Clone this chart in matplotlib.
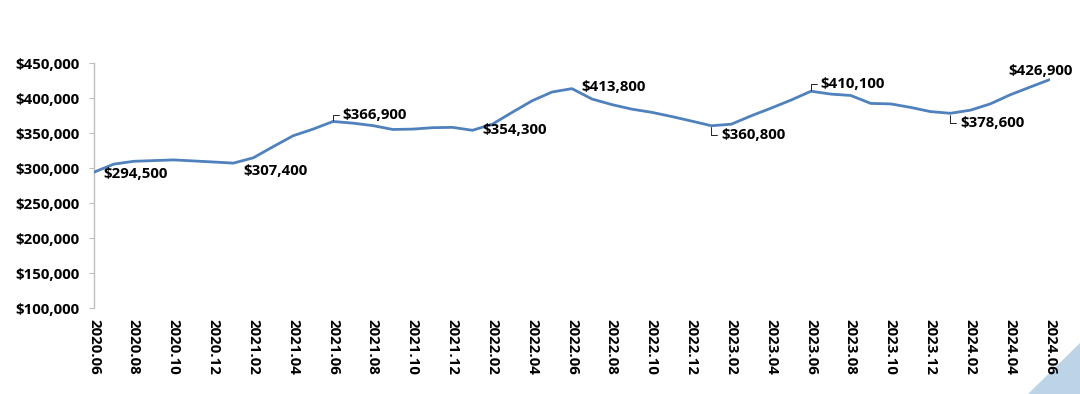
import matplotlib
matplotlib.use("Agg")
import matplotlib.pyplot as plt
from matplotlib.patches import Polygon
from matplotlib.ticker import FuncFormatter

# ---- data ----
months = [
    "2020.06", "2020.07", "2020.08", "2020.09", "2020.10", "2020.11", "2020.12",
    "2021.01", "2021.02", "2021.03", "2021.04", "2021.05", "2021.06", "2021.07",
    "2021.08", "2021.09", "2021.10", "2021.11", "2021.12", "2022.01", "2022.02",
    "2022.03", "2022.04", "2022.05", "2022.06", "2022.07", "2022.08", "2022.09",
    "2022.10", "2022.11", "2022.12", "2023.01", "2023.02", "2023.03", "2023.04",
    "2023.05", "2023.06", "2023.07", "2023.08", "2023.09", "2023.10", "2023.11",
    "2023.12", "2024.01", "2024.02", "2024.03", "2024.04", "2024.05", "2024.06",
]
prices = [
    294500, 306000, 310000, 311000, 312000, 310500, 309000,
    307400, 315000, 331000, 346500, 356000, 366900, 364500,
    361000, 355500, 356000, 358000, 358500, 354300, 363000,
    380000, 396500, 409000, 413800, 399000, 391000, 384500,
    380000, 374000, 367500, 360800, 363000, 375000, 386000,
    397500, 410100, 406000, 404000, 392700, 392000, 387000,
    381000, 378600, 383000, 392000, 405000, 416000, 426900,
]
# labelled points: (month, text offset in points, leader)
label_months = ["2020.06", "2021.01", "2021.06", "2022.01", "2022.06",
                "2023.01", "2023.06", "2024.01", "2024.06"]
label_offsets = [(7, -1), (7, -6), (7, 5), (7, 0), (7, 1),
                 (7, -7), (7, 5), (7, -7), (-30, 6)]
label_leader = [False, False, True, False, False, True, True, True, False]
yticks = [100000, 150000, 200000, 250000, 300000, 350000, 400000, 450000]

FONT = "Open Sans"
FS = 10.8
LINE_COLOR = "#4F81BD"

fig = plt.figure(figsize=(10.8, 3.94), dpi=100)
ax = fig.add_axes([94 / 1080, 1 - 308.3 / 394, (1050 - 94) / 1080, 245 / 394])

x = list(range(len(months)))
ax.plot(x, prices, color=LINE_COLOR, lw=2.0, solid_joinstyle="round", zorder=3)

ax.set_xlim(0, len(months) - 1)
ax.set_ylim(yticks[0], yticks[-1])
ax.set_yticks(yticks)
ax.yaxis.set_major_formatter(FuncFormatter(lambda v, p: f"${v:,.0f}"))
ax.set_xticks(x[::2])
ax.set_xticklabels(months[::2], rotation=270, fontfamily=FONT,
                   fontweight="bold", fontsize=FS, va="top", ha="center")
for t in ax.get_yticklabels():
    t.set_fontfamily(FONT)
    t.set_fontweight("bold")
    t.set_fontsize(FS)

for s in ["top", "right", "bottom"]:
    ax.spines[s].set_visible(False)
ax.spines["left"].set_color("#BFBFBF")
ax.spines["left"].set_linewidth(1.0)
ax.tick_params(axis="y", length=3.5, color="#BFBFBF", pad=7, colors="black")
ax.tick_params(axis="y", color="#BFBFBF")
ax.tick_params(axis="x", length=0, pad=8)

for m, off, lead in zip(label_months, label_offsets, label_leader):
    i = months.index(m)
    v = prices[i]
    kw = dict(textcoords="offset points", xytext=off, fontsize=FS,
              fontfamily=FONT, fontweight="bold", color="black",
              ha="left", va="center", zorder=4)
    if lead:
        kw["arrowprops"] = dict(arrowstyle="-", color="black", lw=0.6,
                                shrinkA=1, shrinkB=1,
                                connectionstyle="angle,angleA=0,angleB=90,rad=0")
    ax.annotate(f"${v:,.0f}", xy=(i, v), **kw)

# decorative corner triangle (behind the axes)
tri = Polygon([[1028 / 1080, 0], [1, 51 / 394], [1, 0]], closed=True,
              transform=fig.transFigure, facecolor="#BCD4E6", edgecolor="none",
              zorder=-1)
fig.patches.append(tri)

fig.savefig("out.png", dpi=100, facecolor="white")
